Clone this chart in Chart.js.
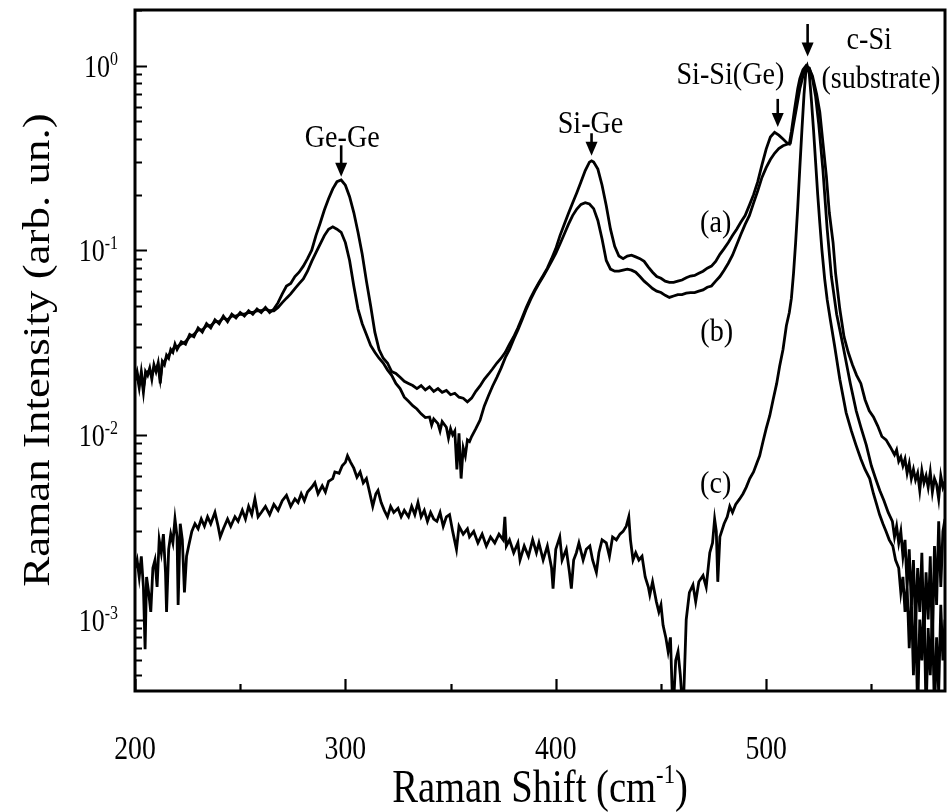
<!DOCTYPE html>
<html>
<head>
<meta charset="utf-8">
<script src="https://cdn.jsdelivr.net/npm/chart.js@4.4.1/dist/chart.umd.min.js"></script>
<style>
html,body{margin:0;padding:0;background:#fff;}
#wrap{width:947px;height:812px;position:relative;}
</style>
</head>
<body>
<div id="wrap"><canvas id="c" width="947" height="812"></canvas></div>
<script>
// ---------- data ----------
const shiftA = [200,201,202,203,204,205,206,207,208,209,210,211,212,213,214,215,216,217,218,219,220,222,224,226,228,230,232,234,236,238,240,242,244,246,248,250,252,254,256,258,260,262,264,266,268,270,272,274,276,278,280,282,284,286,288,290,292,294,296,298,300,302,304,306,308,310,312,314,316,318,320,322,324,326,328,330,332,334,336,338,340,342,344,346,348,350,352,354,356,358,360,362,364,366,368,370,372,374,376,378,380,382,384,386,388,390,392,394,396,398,400,402,404,406,408,410,412,414,416,417,418,420,422,424,426,428,430,432,434,436,438,440,442,444,446,448,450,452,454,456,458,460,462,464,466,468,470,472,474,476,478,480,482,484,486,488,490,492,494,496,498,500,502,504,506,508,510,511,512,513.5,515,516,517.5,519,520.5,522,524,525.5,527,528.6,530,531.8,533,535,537,539,541,543,545,547,549,551,553,555,557,559,561,562,563,564,565,566,567,568,569,570,571,572,573,574,575,576,577,578,579,580,581,582,583,584,585];
const intensityA = [0.020,0.022,0.019,0.021,0.017,0.022,0.021,0.023,0.020,0.024,0.022,0.0245,0.019,0.025,0.024,0.027,0.026,0.029,0.028,0.031,0.029,0.032,0.031,0.035,0.034,0.038,0.036,0.040,0.038,0.042,0.040,0.044,0.041,0.045,0.043,0.046,0.044,0.047,0.045,0.048,0.046,0.049,0.046,0.048,0.052,0.058,0.064,0.066,0.072,0.076,0.082,0.090,0.100,0.120,0.140,0.165,0.190,0.215,0.235,0.240,0.225,0.195,0.160,0.125,0.095,0.068,0.050,0.036,0.029,0.026,0.0245,0.022,0.0215,0.0205,0.0195,0.019,0.0185,0.0178,0.0185,0.0175,0.0182,0.0172,0.0178,0.017,0.0174,0.0165,0.0168,0.016,0.0158,0.0151,0.0158,0.0172,0.0184,0.020,0.0213,0.0228,0.0245,0.026,0.028,0.031,0.034,0.038,0.043,0.049,0.055,0.061,0.067,0.073,0.080,0.090,0.102,0.120,0.138,0.158,0.180,0.205,0.235,0.270,0.300,0.305,0.300,0.275,0.225,0.174,0.130,0.105,0.093,0.090,0.093,0.094,0.092,0.090,0.087,0.081,0.076,0.072,0.0705,0.068,0.067,0.067,0.068,0.069,0.071,0.0725,0.073,0.075,0.077,0.080,0.082,0.087,0.095,0.102,0.110,0.120,0.130,0.142,0.154,0.175,0.200,0.235,0.290,0.353,0.410,0.435,0.420,0.400,0.380,0.376,0.440,0.580,0.750,0.850,0.950,1.000,0.960,0.880,0.700,0.560,0.380,0.253,0.160,0.110,0.075,0.048,0.034,0.028,0.024,0.021,0.019,0.0155,0.0135,0.0125,0.0112,0.0098,0.0094,0.0086,0.0078,0.0083,0.0072,0.0076,0.0068,0.0074,0.0062,0.0070,0.0058,0.0065,0.0057,0.0062,0.0050,0.0064,0.0055,0.0060,0.0052,0.0063,0.0049,0.0058,0.0054,0.0045,0.0060,0.0052,0.0056];

const shiftB = [200,201,202,203,204,205,206,207,208,209,210,211,212,213,214,215,216,217,218,219,220,222,224,226,228,230,232,234,236,238,240,242,244,246,248,250,252,254,256,258,260,262,264,266,268,270,272,274,276,278,280,282,284,286,288,290,292,294,296,298,300,302,304,306,308,310,312,314,316,318,320,322,324,326,328,330,332,334,336,338,340,341,342,344,345,346,348,349,350,351,352,353,354,355,356,357,358,359,360,362,364,366,368,370,372,374,376,378,380,382,384,386,388,390,392,394,396,398,400,402,404,406,408,410,412,414,416,418,420,422,424,426,428,430,432,434,436,438,440,442,444,446,448,450,452,454,456,458,460,462,464,466,468,470,472,474,476,478,480,482,484,486,488,490,492,494,496,498,500,502,504,506,508,510,511.5,513,514.3,516,517.5,519,520.5,522,523.5,525,527,529,531,533.5,536.5,540,542.8,545,547.6,550,552,554,556,558,560,561,562,563,564,565,566,567,568,569,570,571,572,573,574,575,576,577,578,579,580,581,582,583,584,585];
const intensityB = [0.021,0.021,0.018,0.022,0.018,0.021,0.022,0.022,0.021,0.023,0.0225,0.024,0.020,0.0245,0.025,0.026,0.027,0.028,0.029,0.030,0.030,0.031,0.032,0.034,0.035,0.037,0.037,0.039,0.039,0.041,0.041,0.043,0.042,0.044,0.044,0.045,0.045,0.046,0.046,0.047,0.047,0.048,0.047,0.047,0.049,0.052,0.055,0.058,0.062,0.066,0.070,0.077,0.087,0.097,0.108,0.120,0.130,0.134,0.130,0.125,0.110,0.088,0.064,0.048,0.040,0.035,0.0305,0.028,0.026,0.0245,0.0225,0.021,0.019,0.0178,0.016,0.0152,0.0144,0.0138,0.013,0.0124,0.0125,0.0113,0.0122,0.0115,0.0105,0.0118,0.011,0.0096,0.0108,0.0100,0.0105,0.0065,0.0102,0.0058,0.0085,0.0077,0.0094,0.0092,0.0098,0.0108,0.012,0.0143,0.0163,0.0184,0.0205,0.023,0.0262,0.029,0.033,0.037,0.042,0.048,0.054,0.060,0.066,0.072,0.079,0.087,0.096,0.108,0.122,0.138,0.154,0.167,0.177,0.181,0.178,0.168,0.145,0.115,0.088,0.079,0.077,0.077,0.078,0.079,0.078,0.076,0.072,0.068,0.065,0.062,0.060,0.059,0.057,0.0555,0.0565,0.0575,0.0575,0.0585,0.059,0.059,0.060,0.061,0.063,0.064,0.068,0.072,0.078,0.085,0.094,0.107,0.122,0.138,0.154,0.180,0.210,0.248,0.280,0.310,0.335,0.355,0.368,0.375,0.380,0.480,0.580,0.750,0.880,0.990,0.970,0.850,0.680,0.480,0.270,0.130,0.072,0.045,0.0305,0.019,0.0135,0.011,0.0088,0.0068,0.0058,0.0050,0.0044,0.0038,0.0034,0.0028,0.0032,0.0026,0.0030,0.0022,0.0027,0.0015,0.0024,0.0012,0.0021,0.0009,0.0019,0.0011,0.0023,0.0008,0.0018,0.0010,0.0022,0.0007,0.0025,0.0012,0.0034,0.0015,0.0030,0.0035];

const shiftC = [200,201,202,203,204,204.8,205.5,206.5,207.5,208.5,209.5,210.5,211.5,212.5,213.5,214.5,215,216,217,218,219,220,220.5,221.5,222.5,223.5,224.5,225.5,227,228.5,230,231.5,233,234.5,236,238,239.5,240.5,242,244,245.5,247.5,249,251,252.5,254,255.5,257,258.5,260,262,264,266,268,270,272,274,276,277.5,279,280.5,282,284,285.5,287,289,290.5,292,294,295,297,298.5,300,301,302.5,304,305.5,307,308.5,310,311.5,313,314.5,315.5,317,318.5,320,321.5,323,325,326.5,328,330,331.5,333,334.5,336,337.5,339,340.5,342,343.5,345,346.5,348,349.5,351,352.8,354,356,358,359,361,363,365,367,369,371,373,375,375.8,376.5,378,380,382,383,385,387,389,390.8,392,394,396,398,398.7,400,401.9,403,405,406.5,407.4,408.5,409.8,411,413,414.5,416.2,417.5,419.3,420.5,422,424,425.5,427,428.8,430.5,432,433.5,434.7,435.5,436.7,438,439.5,441,442.5,444,444.7,446,447.8,449,450,451,452.3,453.4,454.5,455.7,457,458.1,459.2,460.5,462,463.5,465.2,466.5,468,470,471.5,473.2,474.5,475.5,476.3,477,478,480,481.5,482.7,484,485.5,487.4,489,490.5,492.2,494,495.5,496.9,498.5,500,501.7,503.3,505,506.4,508,509.6,511,512,513,514,515,516,517,518,519,519.5,520.5,521.5,522.5,523.5,524.5,525.5,526.5,527.8,529,530.5,532.5,535,538,540.5,542.7,545,547,549.2,551,552.5,553.9,555.5,557,558.5,560.2,561.5,563,564,565,566,567,568,569,570,571,572,573,574,575,576,577,578,579,580,581,582,583,584,585];
const intensityC = [0.0019,0.0021,0.0017,0.0022,0.0015,0.00069,0.0017,0.0014,0.0011,0.0019,0.0021,0.0015,0.0027,0.0023,0.0029,0.0018,0.0011,0.0024,0.0029,0.0026,0.0035,0.0028,0.0012,0.0033,0.0027,0.0014,0.0022,0.0025,0.0030,0.0033,0.0031,0.0035,0.0032,0.0036,0.0033,0.0038,0.0032,0.0028,0.0031,0.0035,0.0032,0.0036,0.0034,0.0039,0.0035,0.0041,0.0037,0.0045,0.0036,0.0038,0.0041,0.0037,0.0042,0.0039,0.0044,0.0047,0.0041,0.0045,0.0043,0.0048,0.0044,0.0049,0.0052,0.0055,0.0048,0.0053,0.0049,0.0056,0.0058,0.0063,0.0062,0.0068,0.0071,0.0077,0.0071,0.0066,0.0059,0.0063,0.0055,0.0058,0.0049,0.0041,0.0048,0.0050,0.0043,0.0039,0.0036,0.0041,0.0038,0.0040,0.0036,0.0039,0.0036,0.0041,0.0037,0.0043,0.0036,0.0039,0.0034,0.0038,0.0035,0.0034,0.0038,0.0032,0.0036,0.0037,0.0030,0.0024,0.0032,0.0029,0.0031,0.0028,0.0030,0.0026,0.0029,0.0025,0.0028,0.0026,0.0029,0.0027,0.0036,0.0025,0.0027,0.0023,0.0026,0.0021,0.0025,0.0022,0.0027,0.0023,0.0026,0.0021,0.0025,0.0019,0.00147,0.0024,0.0028,0.0021,0.0024,0.0018,0.00147,0.0021,0.0023,0.0026,0.0021,0.0024,0.0025,0.0021,0.0018,0.0023,0.0027,0.0026,0.0022,0.0028,0.0027,0.0029,0.0030,0.0032,0.0036,0.0027,0.0021,0.0023,0.0021,0.0022,0.0017,0.0015,0.00136,0.0016,0.00125,0.0011,0.0012,0.00093,0.0008,0.00067,0.0008,0.0003,0.0006,0.00067,0.0005,0.0003,0.0010,0.0014,0.00154,0.00125,0.0016,0.00173,0.0015,0.0023,0.0026,0.0035,0.0030,0.0016,0.0028,0.0033,0.0036,0.0041,0.0038,0.0042,0.0045,0.0048,0.0052,0.0058,0.0063,0.0070,0.0077,0.0092,0.0108,0.0127,0.0155,0.019,0.0235,0.029,0.039,0.046,0.055,0.075,0.110,0.170,0.280,0.450,0.700,0.970,1.000,0.900,0.650,0.450,0.300,0.200,0.140,0.100,0.070,0.054,0.042,0.0305,0.020,0.0132,0.0105,0.0088,0.0074,0.0065,0.0058,0.0048,0.0042,0.0037,0.0033,0.0030,0.0027,0.0025,0.0021,0.0019,0.0014,0.0017,0.0011,0.0015,0.0007,0.0013,0.0005,0.0012,0.0003,0.0010,0.0006,0.0013,0.0003,0.0009,0.0005,0.0011,0.0003,0.0008,0.0004,0.0012,0.0006,0.0010];

// axis ranges and tick labels
const xMin = 200, xMax = 585;
const yMin = 4.1e-4, yMax = 2.0;
const xMajorTicks = [200, 300, 400, 500];
const xMinorTicks = [250, 350, 450, 550];
const yDecadeExponents = [0, -1, -2, -3];
const xTitle = 'Raman Shift (cm';
const xTitleSup = '-1';
const yTitle = 'Raman Intensity (arb. un.)';

// peak labels (data coordinates) and arrows
const peakLabels = ['Ge-Ge', 'Si-Ge', 'Si-Si(Ge)', 'c-Si', '(substrate)', '(a)', '(b)', '(c)'];
const peakLabelShift = [298.5, 416.5, 483.0, 549.0, 554.5, 476.0, 476.5, 476.0];
const peakLabelIntensity = [0.40, 0.48, 0.88, 1.36, 0.835, 0.139, 0.036, 0.0054];
const arrowShift = [298.0, 417.0, 505.5, 519.7];
const arrowFrom = [0.37, 0.43, 0.66, 1.68];
const arrowTo = [0.25, 0.325, 0.465, 1.12];

function pts(xs, ys) { return xs.map((x, i) => ({x: x, y: ys[i]})); }

const SERIF = '"Liberation Serif", "Times New Roman", serif';

// draw text squeezed horizontally (the reference glyphs are narrow)
function squeezed(ctx, text, x, y, size, align, sx) {
  ctx.save();
  ctx.font = size + 'px ' + SERIF;
  ctx.textAlign = align;
  ctx.translate(x, y);
  ctx.scale(sx, 1);
  ctx.fillText(text, 0, 0);
  const w = ctx.measureText(text).width * sx;
  ctx.restore();
  return w;
}
function textWidth(ctx, text, size, sx) {
  ctx.save();
  ctx.font = size + 'px ' + SERIF;
  const w = ctx.measureText(text).width * sx;
  ctx.restore();
  return w;
}

const decor = {
  id: 'decor',
  afterDraw(chart) {
    const {ctx, chartArea: a, scales: {x, y}} = chart;
    ctx.save();
    ctx.strokeStyle = '#000';
    ctx.fillStyle = '#000';
    ctx.textBaseline = 'alphabetic';
    // inward ticks
    ctx.lineWidth = 2.2;
    ctx.beginPath();
    xMajorTicks.concat(xMinorTicks).forEach(v => {
      const px = Math.round(x.getPixelForValue(v)) + 0.5;
      const len = xMajorTicks.includes(v) ? 12 : 7;
      ctx.moveTo(px, a.bottom); ctx.lineTo(px, a.bottom - len);
    });
    for (let e = -4; e <= 0; e++) {
      for (let k = 1; k <= 9; k++) {
        const v = k * Math.pow(10, e);
        if (v < yMin || v > yMax) continue;
        const py = Math.round(y.getPixelForValue(v)) + 0.5;
        const len = k === 1 ? 12 : 7;
        ctx.moveTo(a.left, py); ctx.lineTo(a.left + len, py);
      }
    }
    ctx.stroke();
    // frame
    ctx.lineWidth = 3;
    ctx.strokeRect(a.left, a.top, a.right - a.left, a.bottom - a.top);

    const SX = 0.84;
    // x tick labels
    xMajorTicks.forEach(v => {
      squeezed(ctx, String(v), x.getPixelForValue(v), a.bottom + 68, 33, 'center', SX);
    });
    // y tick labels with superscript exponents
    yDecadeExponents.forEach(e => {
      const py = y.getPixelForValue(Math.pow(10, e));
      const sup = String(e);
      const sw = textWidth(ctx, sup, 19, SX);
      squeezed(ctx, sup, 118, py - 1, 19, 'right', SX);
      squeezed(ctx, '10', 118 - sw, py + 11, 31, 'right', SX);
    });
    // x title with superscript
    const tS = 46, supS = 27;
    const w1 = textWidth(ctx, xTitle, tS, SX);
    const w2 = textWidth(ctx, xTitleSup, supS, SX);
    const w3 = textWidth(ctx, ')', tS, SX);
    const cx = (a.left + a.right) / 2;
    const sx0 = cx - (w1 + w2 + w3) / 2;
    squeezed(ctx, xTitle, sx0, 802, tS, 'left', SX);
    squeezed(ctx, xTitleSup, sx0 + w1, 783, supS, 'left', SX);
    squeezed(ctx, ')', sx0 + w1 + w2, 802, tS, 'left', SX);
    // y title (rotated, glyphs squeezed across)
    ctx.save();
    ctx.translate(49, 350);
    ctx.rotate(-Math.PI / 2);
    ctx.scale(1, SX);
    ctx.font = '45px ' + SERIF;
    ctx.textAlign = 'center';
    ctx.fillText(yTitle, 0, 0);
    ctx.restore();

    // peak labels
    ctx.textBaseline = 'middle';
    peakLabels.forEach((t, i) => {
      squeezed(ctx, t, x.getPixelForValue(peakLabelShift[i]), y.getPixelForValue(peakLabelIntensity[i]), 32, 'center', 0.88);
    });
    // arrows
    arrowShift.forEach((s, i) => {
      const px = x.getPixelForValue(s);
      const p1 = y.getPixelForValue(arrowFrom[i]);
      const p2 = y.getPixelForValue(arrowTo[i]);
      ctx.lineWidth = 2.6;
      ctx.beginPath();
      ctx.moveTo(px, p1); ctx.lineTo(px, p2 - 10);
      ctx.stroke();
      ctx.beginPath();
      ctx.moveTo(px - 6, p2 - 14);
      ctx.lineTo(px + 6, p2 - 14);
      ctx.lineTo(px, p2);
      ctx.closePath();
      ctx.fill();
    });
    ctx.restore();
  }
};

const lineStyle = {
  showLine: true, pointRadius: 0, borderColor: '#000', borderWidth: 2.8,
  backgroundColor: '#000', tension: 0, fill: false
};

new Chart(document.getElementById('c'), {
  type: 'scatter',
  data: {
    datasets: [
      Object.assign({label: '(a)', data: pts(shiftA, intensityA)}, lineStyle),
      Object.assign({label: '(b)', data: pts(shiftB, intensityB)}, lineStyle),
      Object.assign({label: '(c)', data: pts(shiftC, intensityC)}, lineStyle)
    ]
  },
  options: {
    responsive: false,
    animation: false,
    events: [],
    layout: {padding: {top: 10, right: 2, left: 0, bottom: 0}},
    plugins: {legend: {display: false}, tooltip: {enabled: false}},
    scales: {
      x: {
        type: 'linear', min: xMin, max: xMax,
        ticks: {display: false, stepSize: 50, includeBounds: false},
        grid: {display: false}, border: {display: false},
        afterFit(s) { s.height = 121; }
      },
      y: {
        type: 'logarithmic', min: yMin, max: yMax,
        ticks: {display: false},
        grid: {display: false}, border: {display: false},
        afterFit(s) { s.width = 135; }
      }
    }
  },
  plugins: [decor]
});
</script>
</body>
</html>
